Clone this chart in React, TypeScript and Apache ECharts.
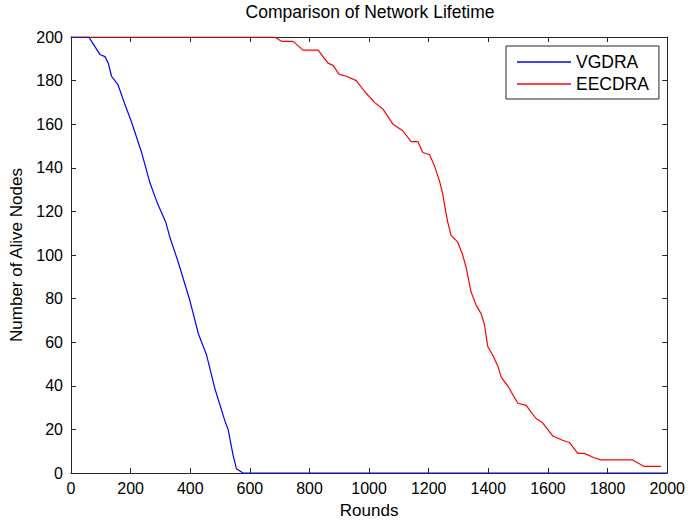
import React, { useEffect, useRef } from "react";
import * as echarts from "echarts";

const xTicks = [0, 200, 400, 600, 800, 1000, 1200, 1400, 1600, 1800, 2000];
const yTicks = [0, 20, 40, 60, 80, 100, 120, 140, 160, 180, 200];

const vgdraRounds = [0, 60, 69, 97, 114, 125, 136, 158, 181, 203, 237, 265, 292, 318, 332, 359, 399, 427, 455, 482, 516, 527, 544, 555, 577, 2000];
const vgdraAlive = [200, 200, 198, 192, 191, 188, 182, 178, 169, 161, 147, 133, 123, 115, 108, 97, 79, 64, 54, 39, 24, 20, 8, 2, 0, 0];

const eecdraRounds = [0, 683, 706, 745, 778, 829, 862, 879, 899, 924, 957, 985, 1018, 1046, 1080, 1113, 1141, 1164, 1180, 1203, 1219, 1236, 1247, 1253, 1264, 1275, 1297, 1314, 1326, 1342, 1359, 1376, 1387, 1398, 1415, 1432, 1443, 1465, 1499, 1527, 1538, 1560, 1582, 1599, 1616, 1649, 1672, 1700, 1722, 1755, 1778, 1884, 1923, 1979];
const eecdraAlive = [200, 200, 198, 198, 194, 194, 188, 187, 183, 182, 180, 175, 170, 167, 160, 157, 152, 152, 147, 146, 141, 134, 128, 123, 115, 109, 106, 100, 94, 83, 77, 73, 68, 58, 54, 49, 44, 40, 32, 31, 29, 25, 23, 20, 17, 15, 14, 9, 9, 7, 6, 6, 3, 3];

const seriesNames = ["VGDRA", "EECDRA"];
const chartTitle = "Comparison of Network Lifetime";
const xName = "Rounds";
const yName = "Number of Alive Nodes";

const FONT = "'Liberation Sans', Arial, sans-serif";

export default function App() {
  const ref = useRef<HTMLDivElement>(null);
  useEffect(() => {
    if (!ref.current) return;
    const chart = echarts.init(ref.current, null, { renderer: "svg" });
    const axisColor = "#262626";
    const baseX = {
      type: "value" as const,
      min: xTicks[0],
      max: xTicks[xTicks.length - 1],
      interval: xTicks[1] - xTicks[0],
      axisLine: { show: true, onZero: false, lineStyle: { color: axisColor, width: 1 } },
      axisTick: { show: true, inside: true, length: 5, lineStyle: { color: axisColor } },
      splitLine: { show: false },
    };
    const baseY = {
      type: "value" as const,
      min: yTicks[0],
      max: yTicks[yTicks.length - 1],
      interval: yTicks[1] - yTicks[0],
      axisLine: { show: true, onZero: false, lineStyle: { color: axisColor, width: 1 } },
      axisTick: { show: true, inside: true, length: 5, lineStyle: { color: axisColor } },
      splitLine: { show: false },
    };
    chart.setOption({
      animation: false,
      backgroundColor: "#fff",
      textStyle: { fontFamily: FONT },
      title: {
        text: chartTitle,
        left: 370,
        textAlign: "center",
        top: 3,
        padding: 0,
        textStyle: { fontSize: 17.5, fontWeight: "normal", color: "#000", fontFamily: FONT },
      },
      grid: { left: 71, right: 19, top: 37, bottom: 47, containLabel: false },
      legend: {
        orient: "vertical",
        left: 506,
        top: 46,
        data: seriesNames,
        icon: "rect",
        itemWidth: 54,
        itemHeight: 1.5,
        itemGap: 4,
        padding: [7, 10, 6, 11],
        backgroundColor: "#fff",
        borderColor: axisColor,
        borderWidth: 1,
        borderRadius: 0,
        textStyle: { fontSize: 17.5, color: "#000", fontFamily: FONT },
      },
      xAxis: [
        {
          ...baseX,
          position: "bottom",
          name: xName,
          nameLocation: "middle",
          nameGap: 29,
          nameTextStyle: { fontSize: 17, color: "#000", fontFamily: FONT },
          axisLabel: { fontSize: 16, color: "#000", margin: 7, fontFamily: FONT, formatter: (v: number) => String(v) },
        },
        { ...baseX, position: "top", axisLabel: { show: false } },
      ],
      yAxis: [
        {
          ...baseY,
          position: "left",
          name: yName,
          nameLocation: "middle",
          nameGap: 36,
          nameTextStyle: { fontSize: 17, color: "#000", fontFamily: FONT },
          axisLabel: { fontSize: 16, color: "#000", margin: 8, fontFamily: FONT, formatter: (v: number) => String(v) },
        },
        { ...baseY, position: "right", axisLabel: { show: false } },
      ],
      series: [
        {
          name: seriesNames[0],
          type: "line",
          xAxisIndex: 0,
          yAxisIndex: 0,
          symbol: "none",
          z: 4,
          lineStyle: { color: "#0000ff", width: 1.2 },
          itemStyle: { color: "#0000ff" },
          data: vgdraRounds.map((r, i) => [r, vgdraAlive[i]]),
        },
        {
          name: seriesNames[1],
          type: "line",
          xAxisIndex: 0,
          yAxisIndex: 0,
          symbol: "none",
          z: 3,
          lineStyle: { color: "#ff0000", width: 1.2 },
          itemStyle: { color: "#ff0000" },
          data: eecdraRounds.map((r, i) => [r, eecdraAlive[i]]),
        },
      ],
    });
    return () => chart.dispose();
  }, []);
  return <div ref={ref} style={{ width: 688, height: 524, position: "fixed", left: 0, top: 0 }} />;
}
